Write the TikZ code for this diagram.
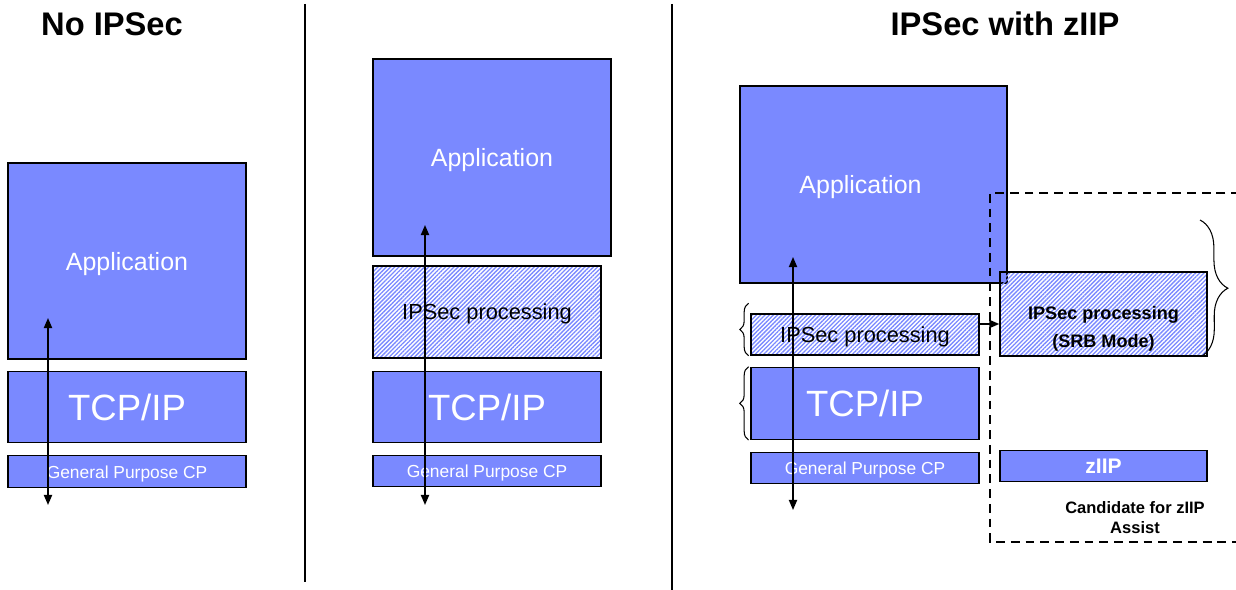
\documentclass[tikz,border=0pt]{standalone}
\usepackage{fontspec}
\setmainfont{Liberation Sans}
\usepackage{tikz}
\usetikzlibrary{arrows.meta,patterns.meta,decorations.pathreplacing,positioning}
\definecolor{cpblue}{RGB}{122,137,255}
\newcommand{\titlesize}{\bfseries\fontsize{18.6}{22}\selectfont}
\newcommand{\appsize}{\fontsize{14.2}{17}\selectfont}
\newcommand{\tcpsize}{\fontsize{20.8}{24}\selectfont}
\newcommand{\cpsize}{\fontsize{9.9}{12}\selectfont}
\newcommand{\ipsize}{\fontsize{12.4}{15}\selectfont}
\newcommand{\srbsize}{\bfseries\fontsize{10.3}{15.8}\selectfont}
\newcommand{\notesize}{\bfseries\fontsize{9.4}{11.4}\selectfont}

\begin{document}
\begin{tikzpicture}[x=0.02cm,y=-0.02cm,>={Triangle[length=5.7pt,width=4.6pt]}]
                  \tikzstyle{layer}=[draw=black,line width=0.8pt,fill=cpblue,text=white,inner sep=0pt,text depth=0pt]
                  \tikzstyle{hatched}=[draw=black,line width=0.8pt,pattern={Lines[angle=45,distance=1.7pt,line width=0.75pt]},pattern color=cpblue,text=black,inner sep=0pt,text depth=0pt]
                  \tikzstyle{flow}=[<->,line width=0.9pt]
                  \tikzstyle{divider}=[line width=0.7pt]
                  \tikzstyle{bracemark}=[line width=0.6pt,decorate]

                  \useasboundingbox (0,0) rectangle (1236,590);

                  \node[font=\titlesize,anchor=base] (t1) at (112,36) {No IPSec};
                  \node[font=\titlesize,anchor=base] (t3) at (1005,36) {IPSec with zIIP};

                  \draw[divider] (305,4) -- (305,582);
                  \draw[divider] (672,4) -- (672,590);

                  \node[layer,minimum width=4.76cm,minimum height=3.92cm,font=\appsize] (app1) at (127,261) {Application};
                  \node[layer,minimum width=4.76cm,minimum height=1.42cm,font=\tcpsize] (tcp1) [below=0.22cm of app1] {TCP/IP};
                  \node[layer,minimum width=4.76cm,minimum height=0.64cm,font=\cpsize] (gp1) [below=0.24cm of tcp1] {General Purpose CP};

                  \node[layer,minimum width=4.76cm,minimum height=3.94cm,font=\appsize] (app2) at (492,157.5) {Application};
                  \node[hatched,minimum width=4.56cm,minimum height=1.84cm,font=\ipsize] (ipsec2) at (487,312) {IPSec processing};
                  \node[layer,minimum width=4.56cm,minimum height=1.42cm,font=\tcpsize] (tcp2) [below=0.24cm of ipsec2] {TCP/IP};
                  \node[layer,minimum width=4.56cm,minimum height=0.62cm,font=\cpsize] (gp2) [below=0.24cm of tcp2] {General Purpose CP};

                  \node[layer,minimum width=5.34cm,minimum height=3.94cm,font=\appsize] (app3) at (873.5,184.5) {Application\kern0.52cm};
                  \node[hatched,minimum width=4.56cm,minimum height=0.82cm,font=\ipsize] (ipsec3) at (865,334.5) {IPSec processing};
                  \node[layer,minimum width=4.56cm,minimum height=1.44cm,font=\tcpsize] (tcp3) [below=0.22cm of ipsec3] {TCP/IP};
                  \node[layer,minimum width=4.56cm,minimum height=0.62cm,font=\cpsize] (gp3) [below=0.24cm of tcp3] {General Purpose CP};

                  \node[hatched,minimum width=4.14cm,minimum height=1.68cm] (srb) at (1103.5,314) {};
                  \node[font=\srbsize,align=center] (srbtext) at ([yshift=-0.29cm]srb.center) {IPSec processing\\(SRB Mode)};
                  \node[layer,minimum width=4.14cm,minimum height=0.62cm,font=\srbsize\fontsize{12}{14}\selectfont] (ziip) [below=1.86cm of srb] {zIIP};
                  \node[font=\notesize,align=center] (cand) at (1135,518) {Candidate for zIIP\\Assist};

                  \draw[line width=0.9pt,dash pattern=on 5pt off 3.4pt] (1240,193) -| (990,542) -- (1240,542);

                  \coordinate (a1top) at (48,318);
                  \coordinate (a1bot) at (48,505);
                  \coordinate (a2top) at (425,225);
                  \coordinate (a2bot) at (425,505);
                  \coordinate (a3top) at (793,257);
                  \coordinate (a3bot) at (793,510);
                  \draw[flow] (a1top) -- (a1bot);
                  \draw[flow] (a2top) -- (a2bot);
                  \draw[flow] (a3top) -- (a3bot);

                  \coordinate (link) at ([yshift=0.21cm]ipsec3.east);
                  \draw[->,line width=0.9pt] (link) -- (link -| srb.west);

                  \draw[bracemark,decoration={brace,amplitude=5pt}] ([xshift=-1pt]ipsec3.south west) -- ([xshift=-1pt,yshift=0.2cm]ipsec3.north west);
                  \draw[bracemark,decoration={brace,amplitude=5pt}] ([xshift=-1pt]tcp3.south west) -- ([xshift=-1pt]tcp3.north west);
                  \coordinate (srbtop) at (1200,220);
                  \draw[bracemark,decoration={brace,amplitude=0.55cm}] (srbtop) -- ([xshift=-0.14cm]srb.south east);
                \end{tikzpicture}
\end{document}
